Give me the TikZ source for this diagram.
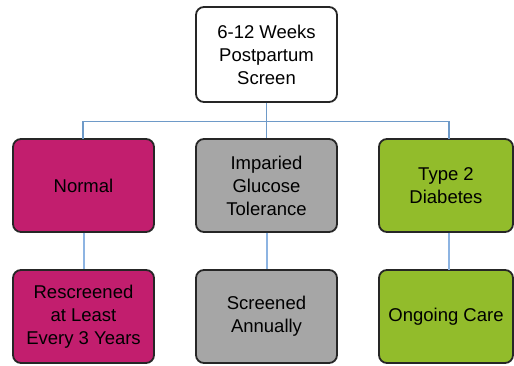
\documentclass[tikz,border=0pt]{standalone}
\usepackage{fontspec}
\setmainfont{Liberation Sans}
\definecolor{magentabox}{HTML}{C21E6E}
\definecolor{graybox}{HTML}{A6A6A6}
\definecolor{greenbox}{HTML}{92BC2B}
\definecolor{linkblue}{HTML}{6E9AC8}
\definecolor{linklight}{HTML}{8DB4E2}
\begin{document}
\begin{tikzpicture}[x=1pt,y=-1pt,
  box/.style={draw=black!85, line width=1.8pt, rounded corners=8pt, align=center,
    font=\fontsize{18.5}{23}\selectfont, inner sep=0pt},
  link/.style={draw=linkblue, line width=1.8pt},
  linkb/.style={draw=linklight, line width=2pt}]
\useasboundingbox (0,0) rectangle (514,365);
\node[box, fill=white, minimum width=141pt, minimum height=95pt] (top) at (266.5,54.5) {6-12 Weeks\\Postpartum\\Screen};
\node[box, fill=magentabox, minimum width=141pt, minimum height=93pt] (normal) at (83.5,185.5) {Normal};
\node[box, fill=graybox, minimum width=141pt, minimum height=93pt] (igt) at (266.5,185.5) {Imparied\\Glucose\\Tolerance};
\node[box, fill=greenbox, minimum width=134pt, minimum height=93pt] (t2d) at (446,185.5) {Type 2\\Diabetes};
\node[box, fill=magentabox, minimum width=141pt, minimum height=93pt] (resc) at (83.5,316.5) {Rescreened\\at Least\\Every 3 Years};
\node[box, fill=graybox, minimum width=141pt, minimum height=93pt] (annual) at (266.5,316.5) {Screened\\Annually};
\node[box, fill=greenbox, minimum width=134pt, minimum height=93pt] (care) at (446,316.5) {Ongoing Care};
\coordinate (bus) at (266.5,121.5);
\coordinate (lt) at (83.3,138.5);
\coordinate (rt) at (449,138.5);
\coordinate (rb1) at (449,232.5);
\coordinate (rb2) at (449,269.5);
\draw[link] (top.south) -- (igt.north);
\draw[link] (lt) |- (bus) -| (rt);
\draw[linkb] (normal.south) -- (resc.north);
\draw[linkb] (igt.south) -- (annual.north);
\draw[linkb] (rb1) -- (rb2);
\end{tikzpicture}
\end{document}
